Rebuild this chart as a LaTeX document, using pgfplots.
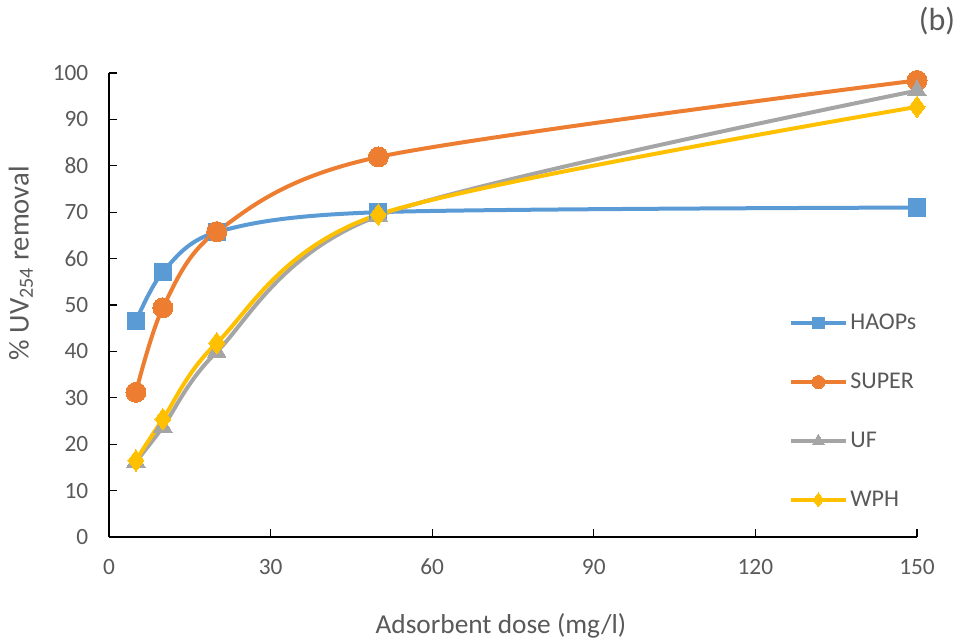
\documentclass[border=0pt]{standalone}
\usepackage{pgfplots}
\pgfplotsset{compat=1.18}
\usepackage{fontspec}
\setmainfont{Carlito}
\definecolor{cblue}{HTML}{5B9BD5}
\definecolor{corange}{HTML}{ED7D31}
\definecolor{cgray}{HTML}{A5A5A5}
\definecolor{cgold}{HTML}{FFC000}
\definecolor{ctext}{HTML}{595959}
\begin{document}
\begin{tikzpicture}[x=0.75pt,y=0.75pt]
\useasboundingbox (-109,-104) rectangle (852,537);
\begin{axis}[
  at={(0,0)}, anchor=south west,
  scale only axis, width=606pt, height=348pt,
  xmin=0, xmax=150, ymin=0, ymax=100,
  xtick={0,30,...,150}, ytick={0,10,...,100},
  axis x line=bottom, axis y line=left,
  axis line style={-, black, line width=0.9pt},
  tick align=inside, major tick length=6pt,
  tick style={black, line width=0.9pt},
  /pgf/number format/assume math mode=true,
  ticklabel style={font=\fontsize{17.5}{20}\selectfont, text=ctext},
  xticklabel style={yshift=-13pt},
  yticklabel style={xshift=-12pt},
  label style={font=\fontsize{20.5}{24}\selectfont, text=ctext},
  xlabel={Adsorbent dose (mg/l)},
  ylabel={\% UV\textsubscript{254} removal},
  xlabel style={at={(axis description cs:0.485,-0.192)}, anchor=center},
  ylabel style={at={(axis description cs:-0.109,0.59)}, anchor=center, font=\fontsize{21.5}{24}\selectfont},
  legend style={draw=none, fill=none, at={(axis cs:126.2,48.6)}, anchor=north west,
    font=\fontsize{18}{20}\selectfont, text=ctext, row sep=27pt,
    legend cell align=left, inner sep=0pt},
  legend image code/.code={%
    \draw[#1, mark repeat=2, mark phase=2, mark options={scale=0.65, line width=0pt}] plot coordinates {(0cm,0cm) (0.72cm,0cm) (1.44cm,0cm)};},
  every axis plot/.append style={line width=3pt, smooth, tension=0.5},
]
\addplot[cblue, mark=square*, mark size=6.5pt, mark options={line width=0pt}]
  coordinates {(5,46.5) (10,57.1) (20,65.7) (50,70.0) (150,71.0)};
\addlegendentry{HAOPs}
\addplot[corange, mark=*, mark size=7.5pt, mark options={line width=0pt}]
  coordinates {(5,31.2) (10,49.4) (20,65.8) (50,81.9) (150,98.4)};
\addlegendentry{SUPER}
\addplot[cgray, mark=triangle*, mark size=8pt, mark options={line width=0pt}]
  coordinates {(5,16.2) (10,23.7) (20,39.9) (50,69.2) (150,96.2)};
\addlegendentry{UF}
\addplot[cgold, mark=diamond*, mark size=8pt, mark options={line width=0pt}]
  coordinates {(5,16.5) (10,25.4) (20,41.8) (50,69.5) (150,92.7)};
\addlegendentry{WPH}
\end{axis}
\node[font=\fontsize{24}{28}\selectfont, text=ctext] at (828,516) {(b)};
\end{tikzpicture}
\end{document}
